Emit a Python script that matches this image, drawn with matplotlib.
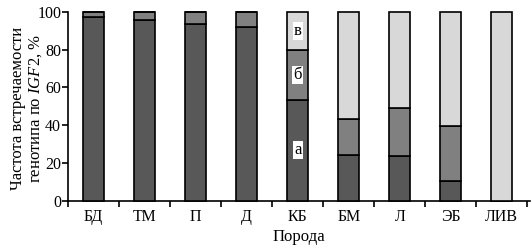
import numpy as np
import matplotlib
matplotlib.use('Agg')
import matplotlib.pyplot as plt

plt.rcParams['font.family'] = ['Liberation Serif', 'DejaVu Serif']
plt.rcParams['mathtext.fontset'] = 'custom'
plt.rcParams['mathtext.it'] = 'Liberation Serif:italic'
plt.rcParams['mathtext.rm'] = 'Liberation Serif'

breeds = ['БД', 'ТМ', 'П', 'Д', 'КБ', 'БМ', 'Л', 'ЭБ', 'ЛИВ']
geno_a = np.array([97.2, 95.6, 93.5, 91.9, 53.5, 24.2, 23.8, 10.2, 0.0])
geno_b = np.array([2.8, 4.4, 6.5, 8.1, 26.3, 18.8, 25.0, 29.3, 0.0])
geno_c = 100 - geno_a - geno_b
seg_labels = ['а', 'б', 'в']

colors = ['#585858', '#808080', '#d8d8d8']

fig = plt.figure(figsize=(5.32, 2.49), dpi=100)
ax = fig.add_axes([0.128, 0.194, 0.868, 0.759])

x = np.arange(len(breeds))
w = 0.41
bottom = np.zeros(len(breeds))
for vals, c in zip([geno_a, geno_b, geno_c], colors):
    ax.bar(x, vals, width=w, bottom=bottom, color=c, edgecolor='k',
           linewidth=1.2, clip_on=False, zorder=3)
    bottom = bottom + vals

# буквы внутри столбца КБ
i = breeds.index('КБ')
centers = [geno_a[i] / 2, geno_a[i] + geno_b[i] / 2, geno_a[i] + geno_b[i] + geno_c[i] / 2]
for lab, yc in zip(seg_labels, centers):
    ax.text(x[i], yc, lab, ha='center', va='center', fontsize=12, zorder=5,
            bbox=dict(facecolor='white', edgecolor='none', pad=0.8))

ax.set_xlim(-0.5, 8.55)
ax.set_ylim(0, 100)
ax.set_yticks(np.arange(0, 101, 20))
ax.set_xticks(x)
ax.set_xticklabels(breeds)
ax.set_xticks(np.arange(-0.5, 9, 1), minor=True)
ax.tick_params(axis='x', which='major', length=0, labelsize=11.5, pad=6)
ax.tick_params(axis='x', which='minor', length=4, width=1.2, direction='out')
ax.tick_params(axis='y', length=4, width=1.2, direction='out', labelsize=11.5, pad=1)

for s in ['top', 'right']:
    ax.spines[s].set_visible(False)
for s in ['left', 'bottom']:
    ax.spines[s].set_linewidth(1.2)

ax.set_xlabel('Порода', fontsize=12, labelpad=3)
ax.set_ylabel('Частота встречаемости\nгенотипа по $\\mathit{IGF2}$, %', fontsize=12,
              linespacing=1.1)
ax.yaxis.set_label_coords(-0.052, 0.49)

fig.savefig('out.png', dpi=100)
